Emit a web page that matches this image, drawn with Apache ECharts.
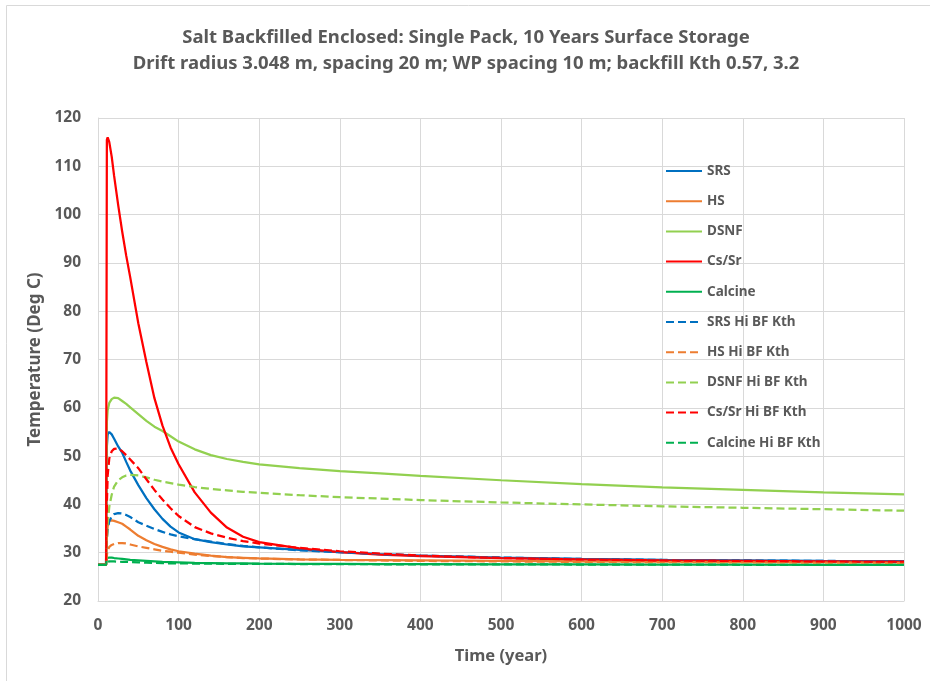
<!DOCTYPE html>
<html>
<head>
    <meta charset="utf-8">
    <script src="https://cdn.jsdelivr.net/npm/echarts@6/dist/echarts.min.js"></script>
</head>
<body style="margin:0">
    <div id="main" style="width: 930px;height:681px;"></div>
    <script type="text/javascript">
        // time points (year)
        var years = [0, 10, 11, 12, 14, 17, 20, 25, 30, 35, 40, 50, 60, 70, 80, 90, 100, 120, 140, 160, 180, 200, 250, 300, 350, 400, 500, 600, 700, 800, 900, 1000];

        // temperature (Deg C)
        var srs      = [27.5, 27.5, 52, 54.5, 55, 54.5, 53.6, 52, 50.7, 48.8, 47, 44, 41.3, 39, 37, 35.4, 34.2, 32.8, 32.2, 31.7, 31.3, 31.1, 30.6, 30.1, 29.7, 29.4, 29, 28.7, 28.5, 28.4, 28.3, 28.25];
        var hs       = [27.5, 27.5, 33, 35.5, 36.6, 36.7, 36.6, 36.3, 36, 35.4, 34.8, 33.5, 32.6, 31.8, 31.2, 30.7, 30.3, 29.8, 29.4, 29.1, 28.95, 28.8, 28.6, 28.5, 28.45, 28.4, 28.3, 28.2, 28.15, 28.1, 28.05, 28];
        var dsnf     = [27.5, 27.5, 57, 59.5, 61, 61.8, 62.1, 62, 61.4, 60.8, 60.1, 58.7, 57.3, 56.1, 55.2, 54.1, 53, 51.4, 50.2, 49.4, 48.8, 48.3, 47.5, 46.9, 46.4, 45.9, 45, 44.2, 43.5, 43, 42.5, 42.1];
        var cssr     = [27.5, 27.5, 115.5, 116, 115, 112, 108, 102, 96.5, 91.5, 87, 77.5, 69.5, 62, 56.3, 51.8, 48.3, 42.5, 38.3, 35.2, 33.3, 32.2, 30.9, 30.1, 29.6, 29.3, 28.9, 28.6, 28.4, 28.3, 28.2, 28.1];
        var calcine  = [27.5, 27.5, 28.9, 29, 29, 29, 28.9, 28.8, 28.7, 28.6, 28.5, 28.4, 28.3, 28.2, 28.1, 28.05, 28, 27.9, 27.85, 27.8, 27.8, 27.75, 27.7, 27.7, 27.65, 27.65, 27.6, 27.6, 27.55, 27.55, 27.5, 27.5];
        var srsHi    = [27.5, 27.5, 33, 35, 36.5, 37.5, 38, 38.2, 38.1, 37.8, 37.4, 36.3, 35.6, 34.9, 34.3, 33.8, 33.4, 32.8, 32.3, 31.8, 31.4, 31.1, 30.5, 30.1, 29.7, 29.4, 29, 28.7, 28.5, 28.4, 28.3, 28.2];
        var hsHi     = [27.5, 27.5, 29.5, 30.5, 31.2, 31.6, 31.8, 32, 32, 31.9, 31.7, 31.3, 31, 30.7, 30.4, 30.2, 30, 29.6, 29.3, 29.1, 28.9, 28.8, 28.6, 28.5, 28.4, 28.3, 28.2, 28.1, 28.05, 28, 27.95, 27.9];
        var dsnfHi   = [27.5, 27.5, 33, 36, 39.5, 42, 43.7, 45, 45.6, 46, 46.1, 46, 45.6, 45.1, 44.7, 44.4, 44.1, 43.6, 43.2, 42.9, 42.6, 42.4, 41.9, 41.5, 41.2, 40.9, 40.4, 40, 39.6, 39.3, 39, 38.7];
        var cssrHi   = [27.5, 27.5, 40, 46, 49.5, 51, 51.5, 51.6, 51, 50.2, 49.3, 47.5, 45.2, 43, 41, 39.2, 37.6, 35.3, 34, 33.1, 32.4, 31.9, 31, 30.3, 29.8, 29.4, 28.9, 28.6, 28.4, 28.3, 28.2, 28.15];
        var calcineHi = [27.5, 27.5, 28, 28.2, 28.2, 28.2, 28.2, 28.15, 28.1, 28.1, 28.05, 28, 27.95, 27.9, 27.85, 27.8, 27.8, 27.75, 27.75, 27.7, 27.7, 27.7, 27.65, 27.65, 27.6, 27.6, 27.6, 27.55, 27.55, 27.5, 27.5, 27.5];

        var names = ['SRS', 'HS', 'DSNF', 'Cs/Sr', 'Calcine',
            'SRS Hi BF Kth', 'HS Hi BF Kth', 'DSNF Hi BF Kth', 'Cs/Sr Hi BF Kth', 'Calcine Hi BF Kth'];
        var values = [srs, hs, dsnf, cssr, calcine, srsHi, hsHi, dsnfHi, cssrHi, calcineHi];
        var colors = ['#0070C0', '#ED7D31', '#92D050', '#FF0000', '#00B050'];

        var font = 'Noto Sans';
        var textColor = '#595959';

        var myChart = echarts.init(document.getElementById('main'));

        var series = names.map(function (name, i) {
            return {
                name: name,
                type: 'line',
                symbol: 'none',
                showSymbol: false,
                animation: false,
                lineStyle: {
                    color: colors[i % 5],
                    width: 2.25,
                    type: i < 5 ? 'solid' : [8, 4]
                },
                itemStyle: { color: colors[i % 5] },
                data: years.map(function (t, k) { return [t, values[i][k]]; })
            };
        });

        myChart.setOption({
            animation: false,
            graphic: [{
                type: 'rect',
                shape: { x: 6.5, y: 5.5, width: 940, height: 690 },
                style: { fill: 'none', stroke: '#D9D9D9', lineWidth: 1 }
            }],
            title: {
                text: 'Salt Backfilled Enclosed: Single Pack, 10 Years Surface Storage\nDrift radius 3.048 m, spacing 20 m; WP spacing 10 m; backfill Kth 0.57, 3.2',
                left: 461,
                top: 20,
                textAlign: 'center',
                textStyle: {
                    fontFamily: font,
                    fontSize: 18.5,
                    fontWeight: 'bold',
                    color: textColor,
                    lineHeight: 26
                }
            },
            legend: {
                orient: 'vertical',
                left: 660,
                top: 159,
                itemWidth: 36,
                itemHeight: 14,
                itemGap: 16.2,
                data: names,
                itemStyle: { opacity: 0 },
                textStyle: {
                    fontFamily: font,
                    fontSize: 13.5,
                    fontWeight: 'bold',
                    color: textColor
                }
            },
            grid: {
                left: 98,
                right: 26,
                top: 118,
                bottom: 80,
                containLabel: false
            },
            xAxis: {
                type: 'value',
                min: 0,
                max: 1000,
                interval: 100,
                name: 'Time (year)',
                nameLocation: 'middle',
                nameGap: 47,
                nameTextStyle: { fontFamily: font, fontSize: 16.5, fontWeight: 'bold', color: textColor },
                axisLine: { show: true, lineStyle: { color: '#D9D9D9' } },
                axisTick: { show: false },
                axisLabel: {
                    fontFamily: font, fontSize: 15.5, fontWeight: 'bold', color: textColor, margin: 17,
                    formatter: function (v) { return String(v); }
                },
                splitLine: { show: true, lineStyle: { color: '#D9D9D9', width: 1 } }
            },
            yAxis: {
                type: 'value',
                min: 20,
                max: 120,
                interval: 10,
                name: 'Temperature (Deg C)',
                nameLocation: 'middle',
                nameGap: 52,
                nameTextStyle: { fontFamily: font, fontSize: 17, fontWeight: 'bold', color: textColor },
                axisLine: { show: true, lineStyle: { color: '#D9D9D9' } },
                axisTick: { show: false },
                axisLabel: { fontFamily: font, fontSize: 15.5, fontWeight: 'bold', color: textColor, margin: 17 },
                splitLine: { show: true, lineStyle: { color: '#D9D9D9', width: 1 } }
            },
            series: series
        });
    </script>
</body>
</html>
